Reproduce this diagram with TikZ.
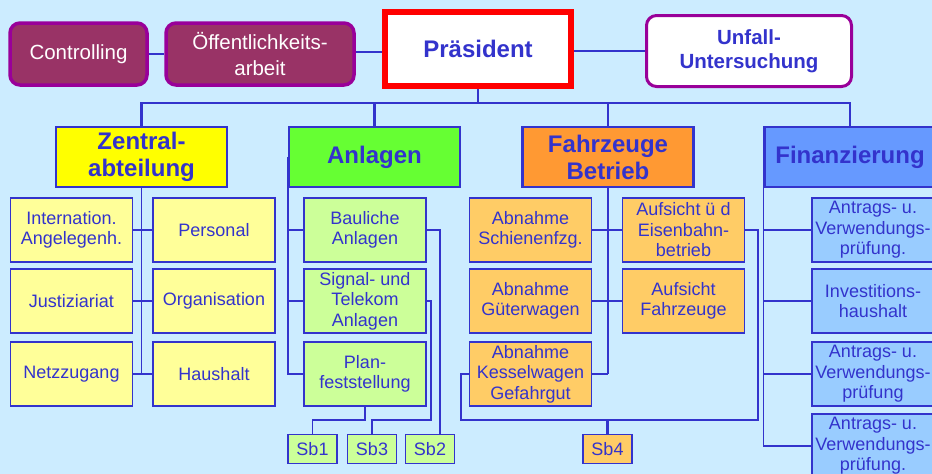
\documentclass[tikz,border=0pt]{standalone}
\usepackage{fontspec}
\setmainfont{Liberation Sans}
\definecolor{bg}{RGB}{204,236,255}
\definecolor{txt}{RGB}{51,51,204}
\definecolor{maroon}{RGB}{153,51,102}
\definecolor{purp}{RGB}{153,0,153}
\definecolor{yel}{RGB}{255,255,0}
\definecolor{yell}{RGB}{255,255,153}
\definecolor{grn}{RGB}{102,255,51}
\definecolor{grnl}{RGB}{204,255,153}
\definecolor{org}{RGB}{255,153,51}
\definecolor{orgl}{RGB}{255,204,102}
\definecolor{blu}{RGB}{102,153,255}
\definecolor{blul}{RGB}{153,204,255}
\begin{document}
\begin{tikzpicture}[x=1pt,y=-1pt,
  topbox/.style={draw=purp, line width=3.5, rounded corners=10, fill=maroon, text=white,
    minimum height=62, inner sep=0, align=center, font=\fontsize{20.5}{26}\selectfont},
  head/.style={draw=txt, line width=2.5, minimum width=171, minimum height=60, inner sep=0,
    align=center, text=txt, font=\fontsize{24}{27}\selectfont\bfseries},
  sub/.style={draw=txt, line width=1.5, minimum width=122, minimum height=64, inner sep=0,
    align=center, text=txt, font=\fontsize{18}{20.5}\selectfont},
  sb/.style={sub, minimum width=49, minimum height=29},
  thick line/.style={draw=txt, line width=2.8},
  thin line/.style={draw=txt, line width=1.5},
]
\useasboundingbox (0,0) rectangle (932,474);
\fill[bg] (0,0) rectangle (932,474);
\clip (0,0) rectangle (932,474);

% top row
\node[topbox, minimum width=137] (ctrl) at (78.5,54) {Controlling};
\node[topbox, minimum width=188] (oeff) at (260,54) {Öffentlichkeits-\\arbeit};
\node[draw=red, line width=6, fill=white, minimum width=186, minimum height=74, inner sep=0,
  text=txt, font=\fontsize{24}{28}\selectfont\bfseries] (praes) at (478,49) {Präsident};
\node[draw=purp, line width=3, rounded corners=10, fill=white, minimum width=205, minimum height=71,
  inner sep=0, align=center, text=txt, font=\fontsize{20.5}{24.5}\selectfont\bfseries] (unfall) at (749,51) {Unfall-\\Untersuchung};

\draw[thick line] (ctrl.east) -- (oeff.west);
\draw[thick line] (oeff.east |- 0,52) -- (praes.west |- 0,52);
\draw[thick line] (praes.east |- unfall.west) -- (unfall.west);

% headers
\node[head, fill=yel] (zent) at (141.5,157) {Zentral-\\abteilung};
\node[head, fill=grn] (anl) at (374.5,157) {Anlagen};
\node[head, fill=org] (fzg) at (608,157) {Fahrzeuge\\Betrieb};
\node[head, fill=blu] (fin) at (850,157) {Finanzierung};

\coordinate (bus) at (0,103);
\draw[thick line] (praes.south) -- (praes.south |- bus);
\draw[thick line] (zent.north) -- (zent.north |- bus) -- (fin.north |- bus) -- (fin.north);
\draw[thick line] (anl.north) -- (anl.north |- bus);
\draw[thick line] (fzg.north) -- (fzg.north |- bus);

% Zentralabteilung
\node[sub, fill=yell] (z11) at (71.5,230) {Internation.\\Angelegenh.};
\node[sub, fill=yell] (z12) at (214,230) {Personal};
\node[sub, fill=yell] (z21) at (71.5,301) {Justiziariat};
\node[sub, fill=yell] (z22) at (214,301) {Organisation};
\node[sub, fill=yell] (z31) at (71.5,374) {Netzzugang};
\node[sub, fill=yell] (z32) at (214,374) {Haushalt};
\draw[thin line] (zent.south) -- (zent.south |- z31.east);
\draw[thin line] (z11.east) -- (z12.west);
\draw[thin line] (z21.east) -- (z22.west);
\draw[thin line] (z31.east) -- (z32.west);

% Anlagen
\node[sub, fill=grnl] (a1) at (365,230) {Bauliche\\Anlagen};
\node[sub, fill=grnl] (a2) at (365,301) {Signal- und\\Telekom\\Anlagen};
\node[sub, fill=grnl] (a3) at (365,374) {Plan-\\feststellung};
\draw[thin line] (anl.west) -- (anl.west |- a3.west) -- (a3.west);
\draw[thin line] (anl.west |- a1.west) -- (a1.west);
\draw[thin line] (anl.west |- a2.west) -- (a2.west);

\node[sb, fill=grnl] (sb1) at (312.5,449) {Sb1};
\node[sb, fill=grnl] (sb3) at (372,449) {Sb3};
\node[sb, fill=grnl] (sb2) at (430,449) {Sb2};
\coordinate (c2) at (440,0);
\draw[thin line] (a1.east) -- (c2 |- a1.east) -- (c2 |- sb2.north);
\coordinate (c3) at (431,420);
\draw[thin line] (a2.east) -- (c3 |- a2.east) -- (c3) -- (sb3.north |- c3) -- (sb3.north);
\draw[thin line] (a3.south) -- (a3.south |- c3) -- (sb1.north |- c3) -- (sb1.north);

% Fahrzeuge Betrieb
\node[sub, fill=orgl] (f11) at (530.5,230) {Abnahme\\Schienenfzg.};
\node[sub, fill=orgl] (f12) at (683.5,230) {Aufsicht ü d\\Eisenbahn-\\betrieb};
\node[sub, fill=orgl] (f21) at (530.5,301) {Abnahme\\Güterwagen};
\node[sub, fill=orgl] (f22) at (683.5,301) {Aufsicht\\Fahrzeuge};
\node[sub, fill=orgl] (f31) at (530.5,374) {Abnahme\\Kesselwagen\\Gefahrgut};
\draw[draw=txt, line width=2.3] (fzg.south) -- (fzg.south |- f31.east);
\draw[thin line] (f11.east) -- (f12.west);
\draw[thin line] (f21.east) -- (f22.west);
\draw[thin line] (f31.east) -- (fzg.south |- f31.east);

\node[sb, fill=orgl] (sb4) at (607.5,449) {Sb4};
\coordinate (lp) at (461,420);
\coordinate (rp) at (758,420);
\draw[thin line] (f31.west) -- (lp |- f31.west) -- (lp) -- (rp) -- (rp |- f12.east) -- (f12.east);
\draw[draw=txt, line width=2.3] (sb4.north |- lp) -- (sb4.north);

% Finanzierung
\node[sub, fill=blul] (g1) at (873,230) {Antrags- u.\\Verwendungs-\\prüfung.};
\node[sub, fill=blul] (g2) at (873,301) {Investitions-\\haushalt};
\node[sub, fill=blul] (g3) at (873,374) {Antrags- u.\\Verwendungs-\\prüfung};
\node[sub, fill=blul] (g4) at (873,446) {Antrags- u.\\Verwendungs-\\prüfung.};
\draw[thin line] (fin.west) -- (fin.west |- g4.west) -- (g4.west);
\draw[thin line] (fin.west |- g1.west) -- (g1.west);
\draw[thin line] (fin.west |- g2.west) -- (g2.west);
\draw[thin line] (fin.west |- g3.west) -- (g3.west);
\end{tikzpicture}
\end{document}
